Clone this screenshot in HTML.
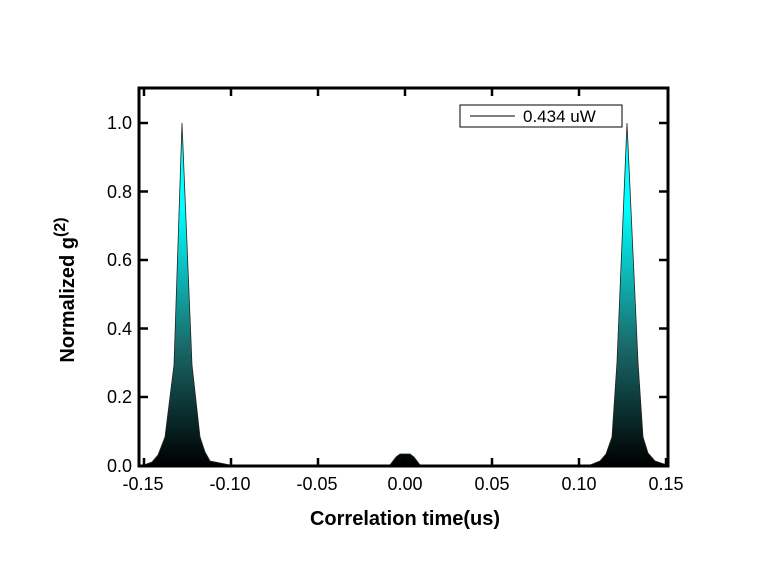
<!DOCTYPE html>
<html><head><style>body{margin:0;background:#fff}svg{display:block}</style></head><body>
<svg width="775" height="580" viewBox="0 0 775 580" xmlns="http://www.w3.org/2000/svg" font-family="Liberation Sans, Arial, sans-serif">
<defs>
<linearGradient id="g" gradientUnits="userSpaceOnUse" x1="0" y1="465" x2="0" y2="123">
<stop offset="0" stop-color="#000"/>
<stop offset="0.35" stop-color="#1a6a6a"/>
<stop offset="0.75" stop-color="#00ffff"/>
<stop offset="1" stop-color="#00ffff"/>
</linearGradient>
</defs>
<g fill="url(#g)" stroke="#222" stroke-width="0.8">
<path d="M144,465 L152,462 L158,455 L165,437 L174,365 L182,123 L192,365 L200,437 L205,452 L210,461 L230,465 Z"/>
<path d="M590,465 L600,461 L606,454 L612,437 L617,362 L627,123 L638,362 L643,437 L648,453 L655,461 L667,465 Z"/>
<path d="M390,465 L396,457 L400,454 L410,454 L414,457 L420,465 Z"/>
</g>
<rect x="139" y="88" width="529" height="378" fill="none" stroke="#000" stroke-width="3"/>
<g stroke="#000" stroke-width="2.5">
<line x1="144" y1="466" x2="144" y2="458"/><line x1="231" y1="466" x2="231" y2="458"/><line x1="318" y1="466" x2="318" y2="458"/><line x1="405" y1="466" x2="405" y2="458"/><line x1="492" y1="466" x2="492" y2="458"/><line x1="579" y1="466" x2="579" y2="458"/><line x1="666" y1="466" x2="666" y2="458"/>
<line x1="144" y1="88" x2="144" y2="96"/><line x1="231" y1="88" x2="231" y2="96"/><line x1="318" y1="88" x2="318" y2="96"/><line x1="405" y1="88" x2="405" y2="96"/><line x1="492" y1="88" x2="492" y2="96"/><line x1="579" y1="88" x2="579" y2="96"/>
<line x1="139" y1="123" x2="148" y2="123"/><line x1="139" y1="191.5" x2="148" y2="191.5"/><line x1="139" y1="260" x2="148" y2="260"/><line x1="139" y1="328.5" x2="148" y2="328.5"/><line x1="139" y1="397" x2="148" y2="397"/>
<line x1="668" y1="123" x2="659" y2="123"/><line x1="668" y1="191.5" x2="659" y2="191.5"/><line x1="668" y1="260" x2="659" y2="260"/><line x1="668" y1="328.5" x2="659" y2="328.5"/><line x1="668" y1="397" x2="659" y2="397"/>
</g>
<g font-size="18" fill="#000" text-anchor="end">
<text x="132" y="129">1.0</text><text x="132" y="198">0.8</text><text x="132" y="266">0.6</text><text x="132" y="335">0.4</text><text x="132" y="403">0.2</text><text x="132" y="472">0.0</text>
</g>
<g font-size="18" fill="#000" text-anchor="middle">
<text x="143" y="490">-0.15</text><text x="230" y="490">-0.10</text><text x="317" y="490">-0.05</text><text x="405" y="490">0.00</text><text x="492" y="490">0.05</text><text x="579" y="490">0.10</text><text x="666" y="490">0.15</text>
</g>
<text x="405" y="525" font-size="20" font-weight="bold" text-anchor="middle">Correlation time(us)</text>
<text transform="translate(74,290) rotate(-90)" font-size="20" font-weight="bold" text-anchor="middle">Normalized g<tspan dy="-9" font-size="16">(2)</tspan></text>
<rect x="460" y="105" width="162" height="22" fill="#fff" stroke="#000" stroke-width="1"/>
<line x1="470" y1="116" x2="515" y2="116" stroke="#000" stroke-width="1"/>
<text x="523" y="122" font-size="17">0.434 uW</text>
</svg>
</body></html>
